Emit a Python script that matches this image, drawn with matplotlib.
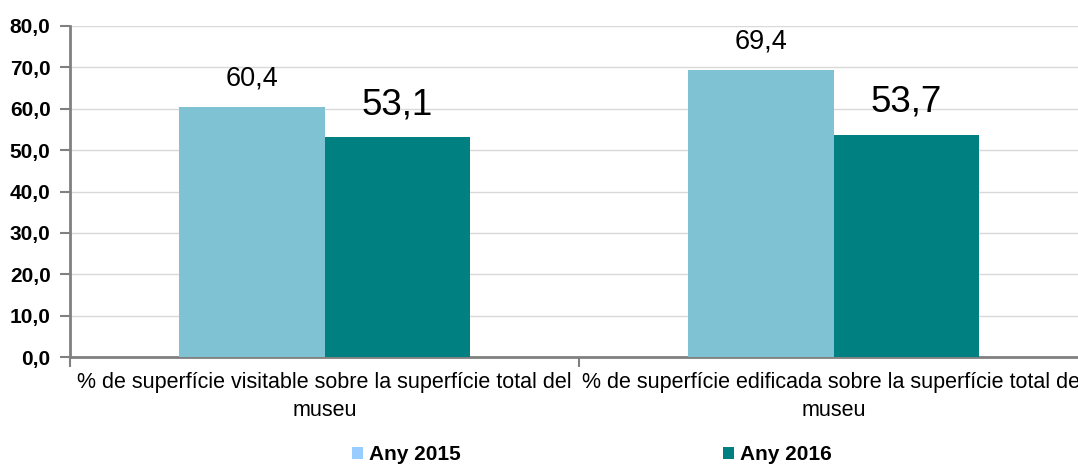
import matplotlib
matplotlib.use("Agg")
import matplotlib.pyplot as plt
from matplotlib.patches import Patch

categories = ["% de superfície visitable sobre la superfície total del\nmuseu",
              "% de superfície edificada sobre la superfície total del\nmuseu"]
series_names = ["Any 2015", "Any 2016"]
values_2015 = [60.4, 69.4]
values_2016 = [53.1, 53.7]
yticks = [0, 10, 20, 30, 40, 50, 60, 70, 80]

plt.rcParams['font.family'] = ['Liberation Sans', 'DejaVu Sans']

c15 = "#7FC2D3"
c16 = "#008080"
leg15 = "#99CCFF"

fig = plt.figure(figsize=(10.78, 4.66), dpi=100)
L = 70 / 1078
R = 1088 / 1078
B = 1 - 357 / 466
T = 1 - 26 / 466
ax = fig.add_axes([L, B, R - L, T - B])

x = [0, 1]
w = 0.286
b1 = ax.bar([i - w / 2 for i in x], values_2015, width=w, color=c15, zorder=3)
b2 = ax.bar([i + w / 2 for i in x], values_2016, width=w, color=c16, zorder=3)

for rect, v in zip(b1, values_2015):
    ax.annotate(f"{v:.1f}".replace(".", ","), (rect.get_x() + rect.get_width() / 2, v),
                xytext=(0, 11), textcoords="offset points", ha="center", va="bottom",
                fontsize=19.5, color="black")
for rect, v in zip(b2, values_2016):
    ax.annotate(f"{v:.1f}".replace(".", ","), (rect.get_x() + rect.get_width() / 2, v),
                xytext=(0, 11), textcoords="offset points", ha="center", va="bottom",
                fontsize=26.5, color="black")

ax.set_xlim(-0.5, 1.5)
ax.set_ylim(0, 80)
ax.set_yticks(yticks)
ax.set_yticklabels([f"{t:.1f}".replace(".", ",") for t in yticks], fontsize=15, fontweight="bold")
ax.yaxis.grid(True, color="#D9D9D9", linewidth=1, zorder=0)
ax.set_axisbelow(True)

ax.set_xticks([-0.5, 0.5, 1.5])
ax.set_xticklabels([])
ax.set_xticks(x, minor=True)
ax.set_xticklabels(categories, minor=True, fontsize=15.5, linespacing=1.45)
ax.tick_params(axis="x", which="minor", length=0, pad=11)
ax.tick_params(axis="x", which="major", length=7, width=1.5, color="#808080", direction="out")
ax.tick_params(axis="y", length=7, width=1.5, color="#808080", direction="out", pad=7)

for s in ["top", "right"]:
    ax.spines[s].set_visible(False)
ax.spines["left"].set_color("#808080")
ax.spines["left"].set_linewidth(2)
ax.spines["bottom"].set_color("#808080")
ax.spines["bottom"].set_linewidth(2)

handles = [Patch(facecolor=leg15, edgecolor="none"), Patch(facecolor=c16, edgecolor="none")]
fig.legend(handles, series_names, loc="center", bbox_to_anchor=(592 / 1078, 1 - 455 / 466),
           ncol=2, frameon=False, handlelength=0.5, handleheight=0.5, handletextpad=0.3,
           columnspacing=12.6, borderpad=0, prop={"weight": "bold", "size": 15})

fig.savefig("out.png", dpi=100)
